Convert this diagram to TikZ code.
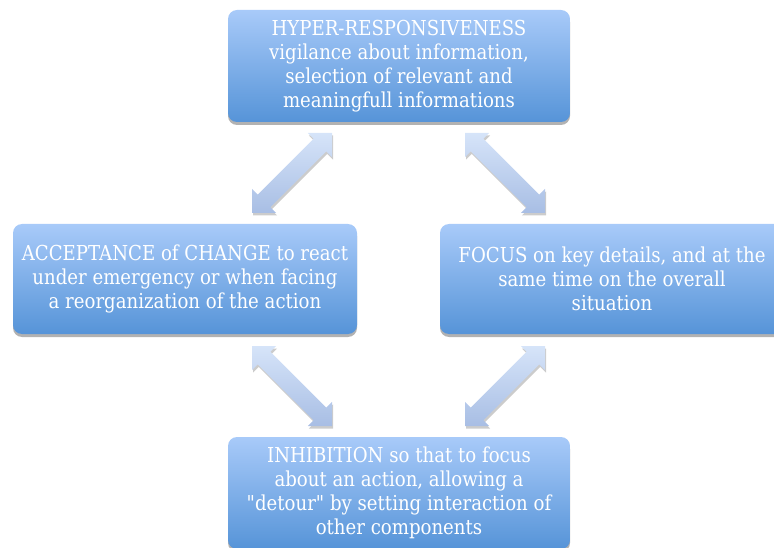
\documentclass[tikz,border=0pt]{standalone}
\usepackage{fontspec}
\setmainfont{DejaVu Serif}[FakeStretch=0.88, Ligatures=TeXOff]
\usetikzlibrary{calc,shadows}
\definecolor{boxtop}{RGB}{168,202,249}
\definecolor{boxbot}{RGB}{86,148,216}
\definecolor{arrtop}{RGB}{214,228,249}
\definecolor{arrbot}{RGB}{168,190,228}
\tikzset{
  card/.style={rectangle, rounded corners=9pt, top color=boxtop, bottom color=boxbot,
    text=white, align=center, inner sep=0pt, font=\fontsize{20.6}{23.8}\selectfont,
    drop shadow={shadow xshift=0pt, shadow yshift=-3pt, opacity=0.3, fill=black}},
  dblarrow/.style={top color=arrtop, bottom color=arrbot,
    drop shadow={shadow xshift=1pt, shadow yshift=-2.5pt, opacity=0.2, fill=black}},
}
\newcommand{\dblarr}[2]{%
  \shade[dblarrow] (#1)
    -- ($($(#1)!17pt!(#2)$)!17pt!90:(#2)$)
    -- ($($(#1)!17pt!(#2)$)!9pt!90:(#2)$)
    -- ($($(#2)!17pt!(#1)$)!9pt!-90:(#1)$)
    -- ($($(#2)!17pt!(#1)$)!17pt!-90:(#1)$)
    -- (#2)
    -- ($($(#2)!17pt!(#1)$)!17pt!90:(#1)$)
    -- ($($(#2)!17pt!(#1)$)!9pt!90:(#1)$)
    -- ($($(#1)!17pt!(#2)$)!9pt!-90:(#2)$)
    -- ($($(#1)!17pt!(#2)$)!17pt!-90:(#2)$)
    -- cycle;}
\begin{document}
\begin{tikzpicture}[x=1pt,y=-1pt]
\useasboundingbox (0,0) rectangle (774,548);
\node[card, minimum width=342pt, minimum height=112pt] (top) at (399,66)
  {HYPER-RESPONSIVENESS\\vigilance about information,\\selection of relevant and\\meaningfull informations};
\node[card, minimum width=344pt, minimum height=110pt] (left) at (185,279)
  {ACCEPTANCE of CHANGE to react\\under emergency or when facing\\a reorganization of the action};
\node[card, minimum width=344pt, minimum height=110pt] (right) at (612,279)
  {FOCUS on key details, and at the\\same time on the overall\\situation};
\node[card, minimum width=342pt, minimum height=112pt] (bottom) at (399,493)
  {INHIBITION so that to focus\\about an action, allowing a\\"detour" by setting interaction of\\other components};
\coordinate (tl1) at (252,213);
\coordinate (tl2) at (332,133);
\coordinate (tr1) at (465,133);
\coordinate (tr2) at (545,213);
\coordinate (bl1) at (252,346);
\coordinate (bl2) at (332,426);
\coordinate (br1) at (545,346);
\coordinate (br2) at (465,426);
\dblarr{tl1}{tl2}
\dblarr{tr1}{tr2}
\dblarr{bl1}{bl2}
\dblarr{br1}{br2}
\end{tikzpicture}
\end{document}
